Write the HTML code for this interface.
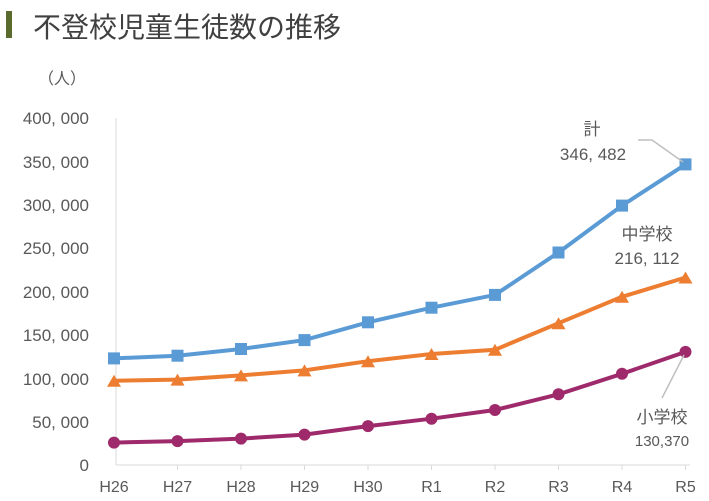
<!DOCTYPE html>
<html><head><meta charset="utf-8"><style>
body{margin:0;background:#fff;width:709px;height:501px;overflow:hidden}
svg{display:block}
text{font-family:"Liberation Sans","Noto Sans CJK JP",sans-serif;fill:#595959}
</style></head><body>
<svg width="709" height="501" viewBox="0 0 709 501">
<rect x="6" y="11" width="6" height="27" fill="#5a6b2d"/>
<text x="33" y="37" font-size="28" style="fill:#404040">不登校児童生徒数の推移</text>
<text x="38" y="84" font-size="16">（人）</text>
<g font-size="17" text-anchor="end">
<text x="89" y="124">400, 000</text>
<text x="89" y="168">350, 000</text>
<text x="89" y="211">300, 000</text>
<text x="89" y="254">250, 000</text>
<text x="89" y="298">200, 000</text>
<text x="89" y="341">150, 000</text>
<text x="89" y="385">100, 000</text>
<text x="89" y="428">50, 000</text>
<text x="89" y="471">0</text>
</g>
<line x1="116" y1="118" x2="116" y2="465" stroke="#d9d9d9"/>
<line x1="116" y1="465" x2="690" y2="465" stroke="#d9d9d9"/>
<g stroke="#d9d9d9">
<line x1="177.5" y1="465" x2="177.5" y2="470"/><line x1="241" y1="465" x2="241" y2="470"/><line x1="304.5" y1="465" x2="304.5" y2="470"/><line x1="368" y1="465" x2="368" y2="470"/><line x1="431.5" y1="465" x2="431.5" y2="470"/><line x1="495" y1="465" x2="495" y2="470"/><line x1="558.5" y1="465" x2="558.5" y2="470"/><line x1="622" y1="465" x2="622" y2="470"/><line x1="685.5" y1="465" x2="685.5" y2="470"/>
</g>
<g font-size="16" text-anchor="middle">
<text x="114" y="492">H26</text><text x="177.5" y="492">H27</text><text x="241" y="492">H28</text><text x="304.5" y="492">H29</text><text x="368" y="492">H30</text><text x="431.5" y="492">R1</text><text x="495" y="492">R2</text><text x="558.5" y="492">R3</text><text x="622" y="492">R4</text><text x="685.5" y="492">R5</text>
</g>
<polyline fill="none" stroke="#5b9bd5" stroke-width="4" points="114,358.4 177.5,355.7 241,349 304.5,340.1 368,322.3 431.5,307.7 495,294.9 558.5,252.5 622,205.6 685.5,164.4"/>
<g fill="#5b9bd5">
<rect x="108" y="352.4" width="12" height="12"/><rect x="171.5" y="349.7" width="12" height="12"/><rect x="235" y="343" width="12" height="12"/><rect x="298.5" y="334.1" width="12" height="12"/><rect x="362" y="316.3" width="12" height="12"/><rect x="425.5" y="301.7" width="12" height="12"/><rect x="489" y="288.9" width="12" height="12"/><rect x="552.5" y="246.5" width="12" height="12"/><rect x="616" y="199.6" width="12" height="12"/><rect x="679.5" y="158.4" width="12" height="12"/>
</g>
<polyline fill="none" stroke="#ed7d31" stroke-width="4" points="114,380.8 177.5,379.6 241,375.4 304.5,370.4 368,361.2 431.5,354 495,349.8 558.5,323.2 622,296.8 685.5,277.5"/>
<g fill="#ed7d31">
<polygon points="114,374.8 121,386.8 107,386.8"/><polygon points="177.5,373.6 184.5,385.6 170.5,385.6"/><polygon points="241,369.4 248,381.4 234,381.4"/><polygon points="304.5,364.4 311.5,376.4 297.5,376.4"/><polygon points="368,355.2 375,367.2 361,367.2"/><polygon points="431.5,348 438.5,360 424.5,360"/><polygon points="495,343.8 502,355.8 488,355.8"/><polygon points="558.5,317.2 565.5,329.2 551.5,329.2"/><polygon points="622,290.8 629,302.8 615,302.8"/><polygon points="685.5,271.5 692.5,283.5 678.5,283.5"/>
</g>
<polyline fill="none" stroke="#9e2a6b" stroke-width="4" points="114,442.6 177.5,441.1 241,438.6 304.5,434.6 368,426.1 431.5,418.7 495,410 558.5,394.3 622,373.8 685.5,351.9"/>
<g fill="#9e2a6b">
<circle cx="114" cy="442.6" r="6"/><circle cx="177.5" cy="441.1" r="6"/><circle cx="241" cy="438.6" r="6"/><circle cx="304.5" cy="434.6" r="6"/><circle cx="368" cy="426.1" r="6"/><circle cx="431.5" cy="418.7" r="6"/><circle cx="495" cy="410" r="6"/><circle cx="558.5" cy="394.3" r="6"/><circle cx="622" cy="373.8" r="6"/><circle cx="685.5" cy="351.9" r="6"/>
</g>
<polyline fill="none" stroke="#bfbfbf" stroke-width="1.5" points="638,140 652,140 683,162"/>
<line x1="684" y1="355" x2="662" y2="398" stroke="#bfbfbf" stroke-width="1.5"/>
<g font-size="17" text-anchor="middle">
<text x="592" y="135">計</text>
<text x="593" y="160">346, 482</text>
<text x="647" y="240">中学校</text>
<text x="647" y="264">216, 112</text>
<text x="662" y="423">小学校</text>
<text x="662" y="446" font-size="15">130,370</text>
</g>
</svg>
</body></html>
